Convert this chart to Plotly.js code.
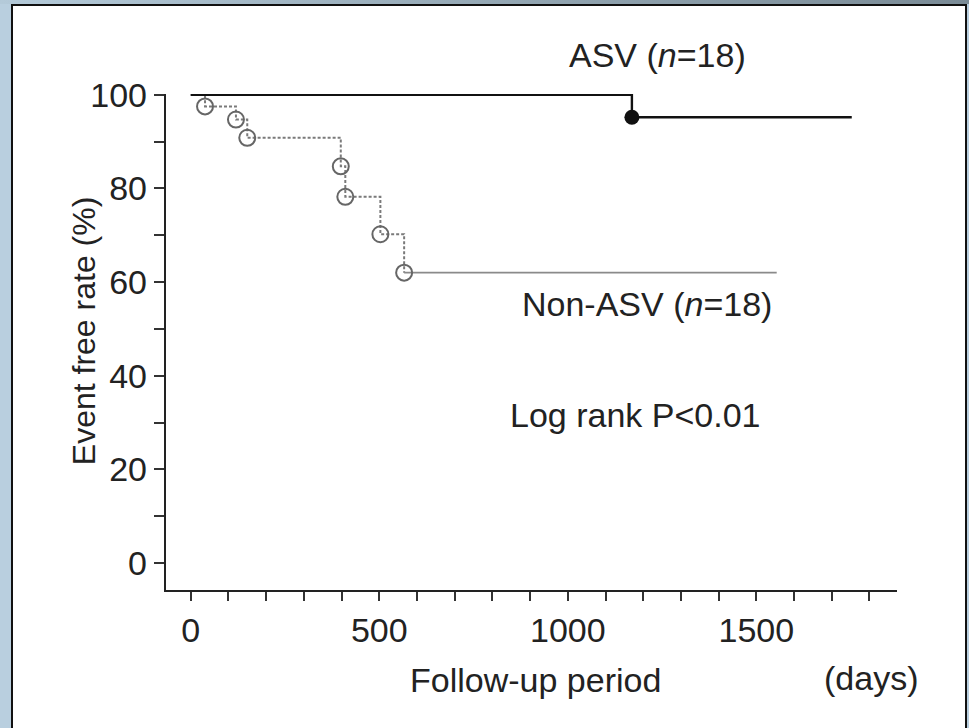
<!DOCTYPE html>
<html>
<head>
<meta charset="utf-8">
<script src="https://cdn.plot.ly/plotly-3.0.1.min.js"></script>
<style>
  html, body { margin:0; padding:0; }
  body { width:969px; height:728px; overflow:hidden; position:relative; background:#b9cfdf; }
  #topband { position:absolute; left:0; top:0; width:969px; height:4px;
             background:linear-gradient(to right, #b4cad9, #8fa2ae 60%, #7a8b96); }
  #panel { position:absolute; left:11px; top:4px; width:952px; height:740px;
           background:#ffffff; border-left:2px solid #111; border-top:2px solid #111; border-right:2px solid #111; }
  #chart { position:absolute; left:0; top:0; width:969px; height:728px; }
</style>
</head>
<body>
<div id="topband"></div>
<div id="panel"></div>
<div id="chart"></div>
<script>
// ---- data ----
const asvStartDay = 0;
const asvStartRate = 100;
const asvEventDays = [1170];
const asvEventRate = [95.2];
const asvEndDay = 1753;

const nonAsvStartDay = 0;
const nonAsvStartRate = 100;
const nonAsvEventDays = [38, 120, 150, 398, 410, 503, 566];
const nonAsvEventRate = [97.5, 94.7, 90.8, 84.7, 78.2, 70.2, 62.0];
const nonAsvEndDay = 1554;

const xTickVals = [0,100,200,300,400,500,600,700,800,900,1000,1100,1200,1300,1400,1500,1600,1700,1800];
const xTickText = ['0','','','','','500','','','','','1000','','','','','1500','','',''];
const yTickVals = [0,10,20,30,40,50,60,70,80,90,100];
const yTickText = ['0','','20','','40','','60','','80','','100'];

// ---- build traces ----
const asvX = [asvStartDay].concat(asvEventDays, [asvEndDay]);
const asvY = [asvStartRate].concat(asvEventRate, [asvEventRate[asvEventRate.length-1]]);

const nonStepX = [nonAsvStartDay].concat(nonAsvEventDays);
const nonStepY = [nonAsvStartRate].concat(nonAsvEventRate);
const lastNon = nonAsvEventRate[nonAsvEventRate.length-1];
const lastNonDay = nonAsvEventDays[nonAsvEventDays.length-1];

const FONT = 'Liberation Sans, Arial, sans-serif';
const FS = 34;
const traces = [
  { x: nonStepX, y: nonStepY, mode:'lines', line:{shape:'hv', color:'#7a7a7a', width:2, dash:'3px,2px'}, cliponaxis:false, hoverinfo:'skip' },
  { x: [lastNonDay, nonAsvEndDay], y: [lastNon, lastNon], mode:'lines', line:{color:'#8a8a8a', width:1.8}, cliponaxis:false, hoverinfo:'skip' },
  { x: nonAsvEventDays, y: nonAsvEventRate, mode:'markers', marker:{symbol:'circle-open', size:16, color:'#666', line:{width:2, color:'#666'}}, cliponaxis:false },
  { x: asvX, y: asvY, mode:'lines', line:{shape:'hv', color:'#111', width:2.4}, cliponaxis:false },
  { x: asvEventDays, y: asvEventRate, mode:'markers', marker:{symbol:'circle', size:15, color:'#111'}, cliponaxis:false }
];

const layout = {
  width:969, height:728,
  margin:{l:166, r:72, t:94, b:138},
  paper_bgcolor:'rgba(0,0,0,0)', plot_bgcolor:'rgba(0,0,0,0)',
  showlegend:false,
  font:{family:FONT, size:FS, color:'#222'},
  xaxis:{
    range:[-65.5, 1873], showgrid:false, zeroline:false,
    showline:true, linecolor:'#222', linewidth:2.2,
    ticks:'outside', ticklen:9, tickwidth:2, tickcolor:'#333',
    tickvals:xTickVals, ticktext:xTickText,
    tickfont:{family:FONT, size:FS, color:'#222'}
  },
  yaxis:{
    range:[-5.77, 100.15], showgrid:false, zeroline:false,
    showline:true, linecolor:'#222', linewidth:2.2,
    ticks:'outside', ticklen:10, tickwidth:2, tickcolor:'#333',
    tickvals:yTickVals, ticktext:yTickText,
    tickfont:{family:FONT, size:FS, color:'#222'}
  },
  annotations:[
    {xref:'paper', yref:'paper', x:0.6717, y:1.0786, text:'ASV (<i>n</i>=18)', showarrow:false, xanchor:'center', yanchor:'middle', font:{family:FONT, size:FS, color:'#222'}},
    {xref:'paper', yref:'paper', x:0.658, y:0.5766, text:'Non-ASV (<i>n</i>=18)', showarrow:false, xanchor:'center', yanchor:'middle', font:{family:FONT, size:FS, color:'#222'}},
    {xref:'paper', yref:'paper', x:0.6416, y:0.3528, text:'Log rank P&lt;0.01', showarrow:false, xanchor:'center', yanchor:'middle', font:{family:FONT, size:FS, color:'#222'}},
    {xref:'paper', yref:'paper', x:0.506, y:-0.1815, text:'Follow-up period', showarrow:false, xanchor:'center', yanchor:'middle', font:{family:FONT, size:FS, color:'#222'}},
    {xref:'paper', yref:'paper', x:0.9644, y:-0.177, text:'(days)', showarrow:false, xanchor:'center', yanchor:'middle', font:{family:FONT, size:FS, color:'#222'}},
    {xref:'paper', yref:'paper', x:-0.112, y:0.522, text:'Event free rate (%)', textangle:-90, showarrow:false, xanchor:'center', yanchor:'middle', font:{family:FONT, size:32, color:'#222'}}
  ]
};

Plotly.newPlot('chart', traces, layout, {staticPlot:true, displayModeBar:false});
</script>
</body>
</html>
